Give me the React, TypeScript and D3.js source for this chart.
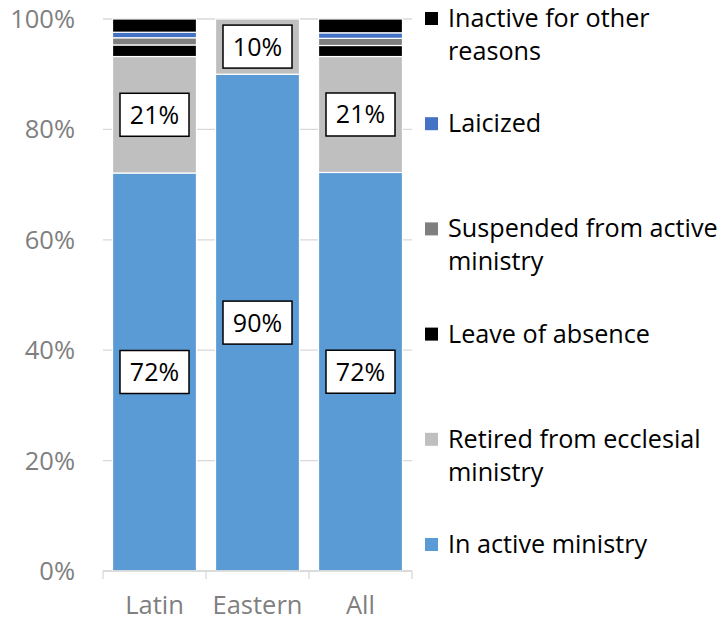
import React from "react";
import * as d3 from "d3";

const categories = ["Latin", "Eastern", "All"];
const seriesNames = [
  "In active ministry",
  "Retired from ecclesial ministry",
  "Leave of absence",
  "Suspended from active ministry",
  "Laicized",
  "Inactive for other reasons",
];
const legendLines = [
  ["In active ministry"],
  ["Retired from ecclesial", "ministry"],
  ["Leave of absence"],
  ["Suspended from active", "ministry"],
  ["Laicized"],
  ["Inactive for other", "reasons"],
];
const inActive = [72.1, 90.0, 72.2];
const retired = [21.1, 10.0, 21.0];
const leave = [2.1, 0, 2.0];
const suspended = [1.3, 0, 1.3];
const laicized = [1.0, 0, 1.0];
const inactiveOther = [2.4, 0, 2.5];
const colors = ["#5b9bd5", "#bfbfbf", "#000000", "#7f7f7f", "#4472c4", "#000000"];
const yTicks = [0, 20, 40, 60, 80, 100];
const labelSeries = [0, 1];
const FONT = "'Open Sans', sans-serif";

export default function App() {
  const W = 728, H = 621;
  const left = 103, right = 412, top = 19, bottom = 571;
  const x = d3.scaleBand().domain(categories).range([left, right]).paddingInner(0.185).paddingOuter(0.0925);
  const y = d3.scaleLinear().domain([0, 100]).range([bottom, top]);
  const seriesData = [inActive, retired, leave, suspended, laicized, inactiveOther];
  const rows = categories.map((c, i) => {
    const r: any = { cat: c };
    seriesNames.forEach((s, k) => (r[s] = seriesData[k][i]));
    return r;
  });
  const stacked = d3.stack().keys(seriesNames)(rows);
  const step = (right - left) / categories.length;
  const legendX = 425;
  const legendBase = 27;
  const legendStep = 105.2;
  return (
    <svg width={W} height={H} style={{ display: "block", position: "absolute", left: 0, top: 0 }} fontFamily={FONT}>
      <rect width={W} height={H} fill="#fff" />
      {yTicks.map((t) => (
        <g key={t}>
          <line x1={left} x2={right} y1={y(t)} y2={y(t)} stroke="#d9d9d9" strokeWidth={1.3} />
          <text x={75} y={y(t) + 9} textAnchor="end" fontSize={25.5} fill="#7f7f7f">{t}%</text>
        </g>
      ))}
      {stacked.map((s, k) => (
        <g key={s.key}>
          {s.map((d, i) => (
            d[1] - d[0] > 0 ? (
              <rect key={i} x={x(categories[i])} width={x.bandwidth()} y={y(d[1])} height={y(d[0]) - y(d[1])}
                fill={colors[k]} stroke="#fff" strokeWidth={1.2} />
            ) : null
          ))}
        </g>
      ))}
      <line x1={left} x2={right} y1={bottom} y2={bottom} stroke="#d9d9d9" strokeWidth={1.3} />
      {d3.range(categories.length + 1).map((i) => (
        <line key={i} x1={left + i * step} x2={left + i * step} y1={bottom} y2={bottom + 8} stroke="#d9d9d9" strokeWidth={1.3} />
      ))}
      {categories.map((c) => (
        <text key={c} x={(x(c) as number) + x.bandwidth() / 2} y={614} textAnchor="middle" fontSize={25.5} fill="#7f7f7f">{c}</text>
      ))}
      {labelSeries.map((k) => stacked[k].map((d, i) => {
        const v = d[1] - d[0];
        const cx = (x(categories[i]) as number) + x.bandwidth() / 2;
        const cy = (y(d[0]) + y(d[1])) / 2;
        const bw = 69, bh = 43;
        return (
          <g key={k + "-" + i}>
            <rect x={cx - bw / 2} y={cy - bh / 2} width={bw} height={bh} fill="#fff" stroke="#000" strokeWidth={1.5} />
            <text x={cx} y={cy + 9} textAnchor="middle" fontSize={25} fill="#000">{Math.round(v)}%</text>
          </g>
        );
      }))}
      {legendLines.map((lines, k) => {
        const idx = legendLines.length - 1 - k;
        const base = legendBase + idx * legendStep;
        return (
          <g key={k}>
            <rect x={legendX} y={base - 15} width={13} height={13} fill={colors[k]} />
            {lines.map((ln, j) => (
              <text key={j} x={448} y={base + j * 33} fontSize={25.2} fill="#000">{ln}</text>
            ))}
          </g>
        );
      })}
    </svg>
  );
}
